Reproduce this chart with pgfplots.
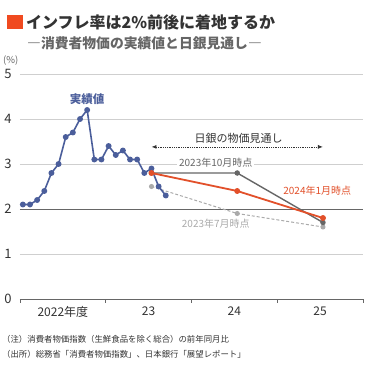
\documentclass[border=0pt]{standalone}
\usepackage{fontspec}
\setmainfont{Noto Sans CJK JP}
\usepackage{pgfplots}
\pgfplotsset{compat=1.18}
\usetikzlibrary{arrows.meta}
\definecolor{cblue}{HTML}{4B5E9B}
\definecolor{corange}{HTML}{E2502A}
\definecolor{cdgray}{HTML}{666666}
\definecolor{clgray}{HTML}{AAAAAA}
\definecolor{cgrid}{HTML}{CFCFCF}
\definecolor{ctext}{HTML}{333333}
\begin{document}
\begin{tikzpicture}
\path[use as bounding box, fill=white] (0,0) rectangle (370bp,370bp);
% title
\fill[color={rgb,255:red,240;green,74;blue,32}] (7bp,341bp) rectangle (23bp,355bp);
\node[anchor=west, inner sep=0, text=ctext, font=\fontsize{16bp}{16bp}\selectfont\bfseries] at (26bp,348bp) {インフレ率は2\%前後に着地するか};
\node[anchor=west, inner sep=0, text=cdgray, font=\fontsize{13.8bp}{13.8bp}\selectfont\bfseries] at (27bp,327bp) {―消費者物価の実績値と日銀見通し―};
\node[anchor=west, inner sep=0, text=cdgray, font=\fontsize{9.5bp}{9.5bp}\selectfont] at (3bp,309bp) {(\%)};
\node[anchor=west, inner sep=0, text=ctext, font=\fontsize{8.4bp}{8.4bp}\selectfont] at (2bp,31bp) {（注）消費者物価指数（生鮮食品を除く総合）の前年同月比};
\node[anchor=west, inner sep=0, text=ctext, font=\fontsize{8.4bp}{8.4bp}\selectfont] at (2bp,16bp) {（出所）総務省「消費者物価指数」、日本銀行「展望レポート」};
\begin{axis}[
  at={(20bp,71bp)}, anchor=south west,
  scale only axis, width=343bp, height=225bp,
  xmin=0, xmax=48, ymin=0, ymax=5,
  axis x line*=bottom, axis y line*=left,
  x axis line style={-, draw=cdgray, line width=0.9bp},
  y axis line style={draw=none},
  ytick={0,1,3,4,5}, extra y ticks={2},
  ymajorgrids, major grid style={draw=cgrid, line width=1bp},
  extra y tick style={major grid style={draw=cdgray, line width=1bp}},
  ytick style={draw=none},
  xtick={0,12,24,36,48}, xticklabels={},
  tick align=outside, major tick length=4bp,
  xtick style={draw=cdgray, line width=0.9bp},
  extra x ticks={6,18,30,42},
  extra x tick labels={2022年度,23,24,25},
  extra x tick style={major tick length=0pt, xmajorgrids=false},
  /pgf/number format/assume math mode=true,
  yticklabel style={font=\fontsize{13bp}{13bp}\selectfont, text=ctext, xshift=-1bp},
  xticklabel style={font=\fontsize{12bp}{12bp}\selectfont, text=ctext, yshift=-4bp},
  clip=false,
]
% 2023年7月
\addplot[clgray, line width=1bp, densely dashed, mark=*, mark size=2bp, mark options={solid, fill=clgray, draw=clgray}] coordinates {(18.4,2.5) (30.4,1.9) (42.4,1.6)};
% 2023年10月
\addplot[cdgray, line width=1.4bp, mark=*, mark size=2bp, mark options={fill=cdgray}] coordinates {(18.4,2.8) (30.4,2.8) (42.4,1.7)};
% actual
\addplot[cblue, line width=1.6bp, mark=*, mark size=2.1bp, mark options={fill=cblue}] coordinates {
(0.4,2.1) (1.4,2.1) (2.4,2.2) (3.4,2.4) (4.4,2.8) (5.4,3.0) (6.4,3.6) (7.4,3.7) (8.4,4.0) (9.4,4.2) (10.4,3.1) (11.4,3.1)
(12.4,3.4) (13.4,3.2) (14.4,3.3) (15.4,3.1) (16.4,3.1) (17.4,2.8) (18.4,2.9) (19.4,2.5) (20.4,2.3)};
% 2024年1月
\addplot[corange, line width=1.8bp, mark=*, mark size=2bp, mark options={fill=corange}] coordinates {(18.4,2.8) (30.4,2.4) (42.4,1.8)};
\draw[densely dotted, line width=0.8bp, ctext, {Latex[length=5bp,width=4bp]}-{Latex[length=5bp,width=4bp]}] (axis cs:18.4,3.38) -- (axis cs:42.4,3.38);
\node[text=ctext, font=\fontsize{11bp}{11bp}\selectfont, inner sep=0] at (axis cs:30.6,3.56) {日銀の物価見通し};
\node[text=cdgray, font=\fontsize{10bp}{10bp}\selectfont, fill=white, inner sep=2bp] at (axis cs:27.4,3.02) {2023年10月時点};
\node[text=corange, font=\fontsize{10bp}{10bp}\selectfont, inner sep=0] at (axis cs:41.6,2.4) {2024年1月時点};
\node[text=clgray, font=\fontsize{10bp}{10bp}\selectfont, inner sep=0] at (axis cs:27.4,1.67) {2023年7月時点};
\node[text=cblue, font=\fontsize{11.5bp}{11.5bp}\selectfont\bfseries, inner sep=0] at (axis cs:9.4,4.44) {実績値};
\end{axis}
\end{tikzpicture}
\end{document}
